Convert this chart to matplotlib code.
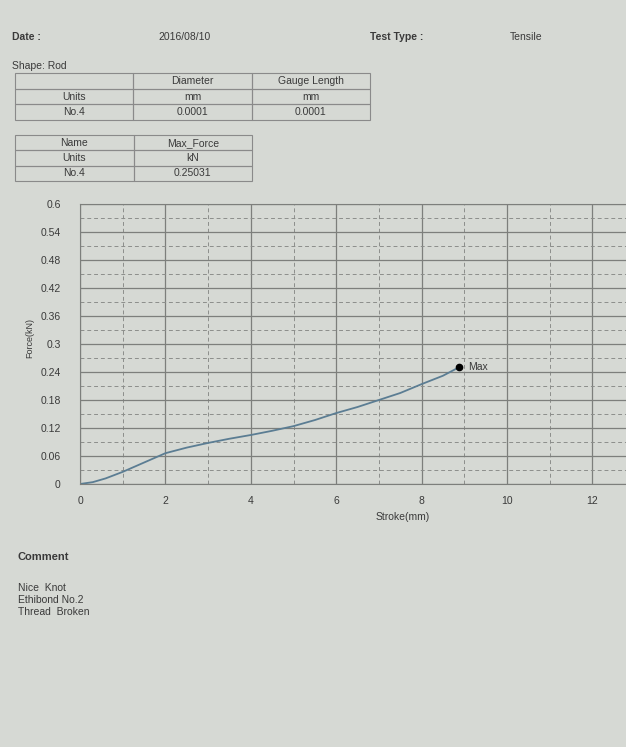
import matplotlib.pyplot as plt
from matplotlib.ticker import MultipleLocator

# test curve
stroke = [0, 0.3, 0.6, 1.0, 1.5, 2.0, 2.5, 3.0, 3.5, 4.0, 4.5, 5.0, 5.5,
          6.0, 6.5, 7.0, 7.5, 8.0, 8.5, 8.88]
force = [0, 0.004, 0.012, 0.026, 0.046, 0.066, 0.078, 0.088, 0.097, 0.105,
         0.114, 0.124, 0.137, 0.152, 0.165, 0.180, 0.195, 0.214, 0.232, 0.2503]

table1 = [['', 'Diameter', 'Gauge Length'],
          ['Units', 'mm', 'mm'],
          ['No.4', '0.0001', '0.0001']]
table2 = [['Name', 'Max_Force'],
          ['Units', 'kN'],
          ['No.4', '0.25031']]
comments = ['Nice  Knot', 'Ethibond No.2', 'Thread  Broken']

W, H = 626, 747
paper = '#d6d9d4'
ink = '#3a3a3a'
plt.rcParams['font.family'] = ['Liberation Sans', 'DejaVu Sans']

fig = plt.figure(figsize=(W / 100, H / 100), dpi=100, facecolor=paper)

# overlay in pixel coordinates for the header, tables and comments
page = fig.add_axes([0, 0, 1, 1])
page.set_xlim(0, W)
page.set_ylim(H, 0)
page.axis('off')
page.set_facecolor('none')


def px_bbox(x0, y0, x1, y1):
    return [x0 / W, 1 - y1 / H, (x1 - x0) / W, (y1 - y0) / H]


page.text(12, 37, 'Date :', fontsize=7.5, fontweight='bold', color=ink, va='center')
page.text(158, 37, '2016/08/10', fontsize=7.5, color=ink, va='center')
page.text(370, 37, 'Test Type :', fontsize=7.5, fontweight='bold', color=ink, va='center')
page.text(510, 37, 'Tensile', fontsize=7.5, color=ink, va='center')
page.text(12, 66, 'Shape: Rod', fontsize=7.5, color=ink, va='center')

for data, box in [(table1, px_bbox(15, 73, 370, 120)), (table2, px_bbox(15, 135, 252, 181))]:
    tb = page.table(cellText=data, cellLoc='center', bbox=box)
    tb.auto_set_font_size(False)
    tb.set_fontsize(7.5)
    for cell in tb.get_celld().values():
        cell.set_facecolor('none')
        cell.set_edgecolor('#8a8a8a')
        cell.set_linewidth(0.8)
        cell.get_text().set_color(ink)

page.text(18, 557, 'Comment', fontsize=8, fontweight='bold', color=ink, va='center')
for i, line in enumerate(comments):
    page.text(18, 588 + i * 12, line, fontsize=7.5, color=ink, va='center')

# the force / stroke chart
ax = fig.add_axes(px_bbox(80, 204, W, 484))
ax.set_facecolor('none')
ax.plot(stroke, force, color='#5b7d93', linewidth=1.3)
ax.plot(stroke[-1], force[-1], 'o', color='black', markersize=4.5)
ax.text(stroke[-1] + 0.2, force[-1], 'Max', fontsize=7.5, color=ink, va='center')

ax.set_xlim(0, (W - 80) / 42.7)
ax.set_ylim(0, 0.6)
ax.xaxis.set_major_locator(MultipleLocator(2))
ax.xaxis.set_minor_locator(MultipleLocator(1))
ax.yaxis.set_major_locator(MultipleLocator(0.06))
ax.yaxis.set_minor_locator(MultipleLocator(0.03))
ax.yaxis.set_major_formatter(lambda v, p: '%g' % round(v, 2))
ax.grid(which='major', color='#7d7f7c', linewidth=0.9)
ax.grid(which='minor', color='#8c8e8b', linewidth=0.7, linestyle=(0, (4, 3)))
ax.tick_params(which='both', length=0, labelsize=7.5, labelcolor=ink)
ax.tick_params(axis='x', pad=9)
ax.tick_params(axis='y', pad=14)
for s in ax.spines.values():
    s.set_color('#7d7f7c')
ax.spines['right'].set_visible(False)
ax.set_xlabel('Stroke(mm)', fontsize=7.5, color=ink, labelpad=3)
ax.xaxis.set_label_coords((403 - 80) / (W - 80), -0.1)
ax.set_ylabel('Force(kN)', fontsize=6.5, color=ink)
ax.yaxis.set_label_coords(-(80 - 34) / (W - 80), 0.52)

plt.savefig('out.png', dpi=100, facecolor=paper)
